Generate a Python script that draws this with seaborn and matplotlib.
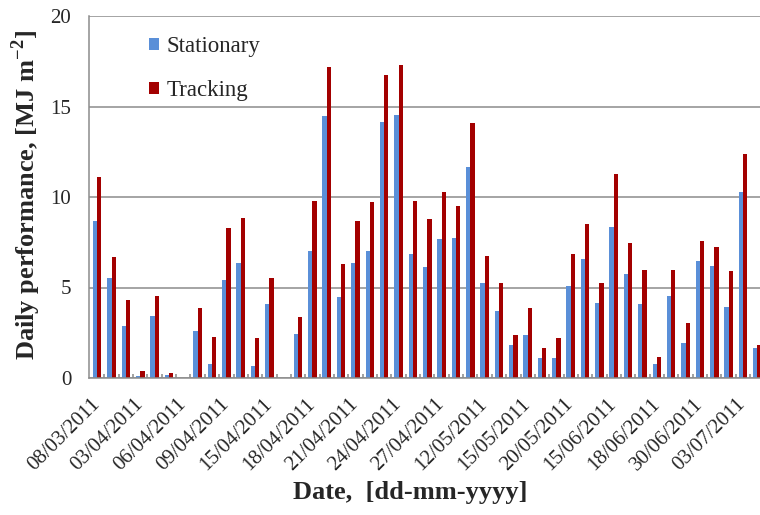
import matplotlib
matplotlib.use("Agg")
import matplotlib.pyplot as plt
import seaborn as sns
import pandas as pd
import numpy as np
from matplotlib.ticker import FixedLocator

# ---- data ----
stationary = [8.7, 5.5, 2.9, 0.1, 3.4, 0.15, 0.0, 2.6, 0.75, 5.4,
              6.35, 0.65, 4.1, 0.0, 2.45, 7.0, 14.5, 4.5, 6.35, 7.0,
              14.15, 14.55, 6.85, 6.15, 7.7, 7.75, 11.65, 5.25, 3.7, 1.8,
              2.35, 1.1, 1.1, 5.1, 6.6, 4.15, 8.35, 5.75, 4.1, 0.75,
              4.55, 1.95, 6.45, 6.2, 3.95, 10.3, 1.65]
tracking = [11.1, 6.7, 4.3, 0.4, 4.55, 0.3, 0.0, 3.85, 2.25, 8.3,
            8.85, 2.2, 5.5, 0.0, 3.35, 9.8, 17.2, 6.3, 8.7, 9.75,
            16.75, 17.3, 9.8, 8.8, 10.3, 9.5, 14.1, 6.75, 5.25, 2.35,
            3.85, 1.65, 2.2, 6.85, 8.5, 5.25, 11.25, 7.45, 5.95, 1.15,
            5.95, 3.05, 7.55, 7.25, 5.9, 12.35, 1.85]
date_labels = ["08/03/2011", "03/04/2011", "06/04/2011", "09/04/2011",
               "15/04/2011", "18/04/2011", "21/04/2011", "24/04/2011",
               "27/04/2011", "12/05/2011", "15/05/2011", "20/05/2011",
               "15/06/2011", "18/06/2011", "30/06/2011", "03/07/2011"]
series_names = ["Stationary", "Tracking"]
yticks = [0, 5, 10, 15, 20]

n = len(stationary)
day = list(range(n))
df = pd.DataFrame({
    "day": day * 2,
    "series": [series_names[0]] * n + [series_names[1]] * n,
    "value": stationary + tracking,
})

sns.set_theme(style="white")
plt.rcParams["font.family"] = ["Liberation Serif", "DejaVu Serif"]
plt.rcParams["mathtext.fontset"] = "custom"
plt.rcParams["mathtext.rm"] = "Liberation Serif"
plt.rcParams["mathtext.bf"] = "Liberation Serif:bold"

fig = plt.figure(figsize=(7.6, 5.15), dpi=100)
W, H = 760, 515
unit = 14.35
left_px, top_px, bottom_px = 89.3, 16, 378
xlim = (-0.55, 47.45)
ax = fig.add_axes([left_px / W, 1 - bottom_px / H,
                   (xlim[1] - xlim[0]) * unit / W, (bottom_px - top_px) / H])

sns.barplot(data=df, x="day", y="value", hue="series", order=day,
            hue_order=series_names, palette=["#5A8FD8", "#A30000"],
            width=0.6, saturation=1, ax=ax, linewidth=0, legend=True)

ax.set_xlim(*xlim)
ax.set_ylim(0, 20)
ax.set_yticks(yticks)
ax.set_yticklabels([str(v) for v in yticks], fontsize=15)
ax.yaxis.grid(True, color="#8c8c8c", linewidth=1.1)
ax.set_axisbelow(True)
ax.tick_params(axis="y", length=0, pad=13)

tick_pos = day[::3][:len(date_labels)]
ax.set_xticks(tick_pos)
ax.set_xticklabels(date_labels, fontsize=15, rotation=45, ha="right",
                   va="center", rotation_mode="anchor")
ax.tick_params(axis="x", which="major", length=0, pad=17)
ax.xaxis.set_minor_locator(FixedLocator([i + 0.5 for i in day]))
ax.tick_params(axis="x", which="minor", bottom=True, direction="in",
               length=3, width=1.3, color="#9a9a9a")

for s in ["top", "right"]:
    ax.spines[s].set_visible(False)
for s in ["left", "bottom"]:
    ax.spines[s].set_color("#8c8c8c")
    ax.spines[s].set_linewidth(1.1)

ax.set_xlabel("")
ax.set_ylabel("")
fig.text(26 / W, 1 - 195 / H, r"Daily performance, [MJ m$^{\mathbf{-2}}$]",
         rotation=90, ha="center", va="center", fontsize=19, fontweight="bold")
fig.text(410 / W, 1 - 493 / H, "Date,  [dd-mm-yyyy]",
         ha="center", va="center", fontsize=19, fontweight="bold")

handles, labels = ax.get_legend_handles_labels()
ax.legend(handles, labels, loc="upper left",
          bbox_to_anchor=(149 / W, 1 - 36 / H), bbox_transform=fig.transFigure,
          frameon=False, fontsize=16.5, handlelength=0.45, handleheight=0.45,
          handletextpad=0.3, labelspacing=1.02, borderpad=0, borderaxespad=0)

fig.savefig("out.png", dpi=100)
